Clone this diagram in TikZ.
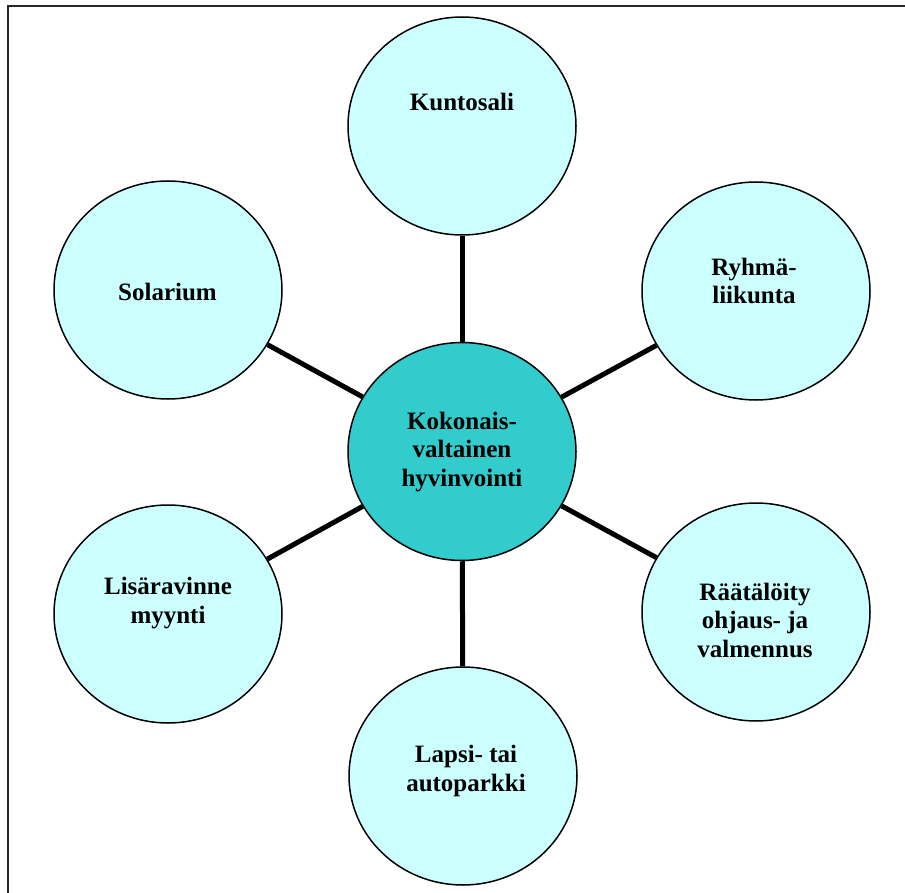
\documentclass[tikz,border=0pt]{standalone}
\usepackage{fontspec}
\setmainfont{Liberation Serif}
\usetikzlibrary{shapes.geometric}

\definecolor{paleCyan}{HTML}{CCFFFF}
\definecolor{hubCyan}{HTML}{33CCCC}

\tikzset{
  bubble/.style={ellipse, draw=black, line width=1.5pt, fill=paleCyan,
    minimum width=228pt, minimum height=218pt, inner sep=0pt},
  hub/.style={bubble, fill=hubCyan},
  caption/.style={align=center, inner sep=0pt,
    font=\fontsize{25pt}{28.5pt}\selectfont\bfseries},
  spoke/.style={line width=5pt, black},
  frame/.style={line width=2pt, black!85}
}

\begin{document}
\begin{tikzpicture}[x=1pt, y=-1pt]
  \useasboundingbox (0,0) rectangle (905,893);

  % outer frame (top and left edges)
  \draw[frame] (8,893) -- (8,6.5) -- (905,6.5);

  % circles
  \node[hub]    (hub)   at (462,451.5) {};
  \node[bubble] (kunto) at (462,126) {};
  \node[bubble] (ryhma) at (756,291) {};
  \node[bubble] (raat)  at (756,612) {};
  \node[bubble] (lapsi) at (463,776) {};
  \node[bubble] (lisa)  at (168,614) {};
  \node[bubble] (sola)  at (168,290) {};

  % spokes from the hub to each circle
  \foreach \n in {kunto,ryhma,raat,lapsi,lisa,sola}
    \draw[spoke] (hub) -- (\n);

  % captions
  \node[caption] (hubT)   at (462,452)   {Kokonais-\\valtainen\\hyvinvointi};
  \node[caption] (kuntoT) at (462,102)   {Kuntosali};
  \node[caption] (ryhmaT) at (754,281)   {Ryhmä-\\liikunta};
  \node[caption] (raatT)  at (755,620)   {Räätälöity\\ohjaus- ja\\valmennus};
  \node[caption] (lapsiT) at (466,771)   {Lapsi- tai\\autoparkki};
  \node[caption] (lisaT)  at (168,603)   {Lisäravinne\\myynti};
  \node[caption] (solaT)  at (167.5,292) {Solarium};
\end{tikzpicture}
\end{document}
